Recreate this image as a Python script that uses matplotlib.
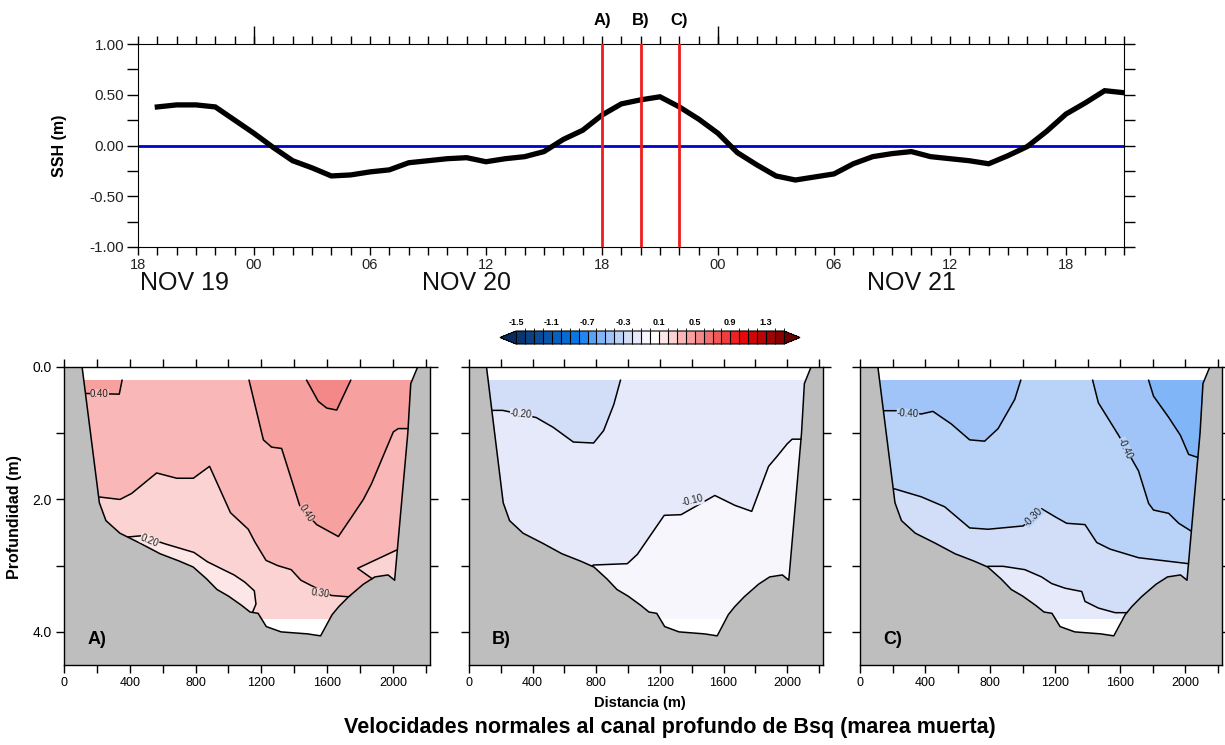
import matplotlib
matplotlib.use('Agg')
import matplotlib.pyplot as plt
import numpy as np
from matplotlib import font_manager
from matplotlib.colors import ListedColormap, BoundaryNorm
from matplotlib.cm import ScalarMappable

plt.rcParams['font.family'] = ['Liberation Sans', 'DejaVu Sans']
fams = {f.name for f in font_manager.fontManager.ttflist}
NARROW = 'Liberation Sans Narrow' if 'Liberation Sans Narrow' in fams else 'Liberation Sans'

# ---- sea surface height, hours since NOV 19 18:00 ----
hours = list(range(1, 52))
ssh = [0.38, 0.40, 0.40, 0.38, 0.25, 0.12, -0.02, -0.15, -0.22, -0.30,
       -0.29, -0.26, -0.24, -0.17, -0.15, -0.13, -0.12, -0.16, -0.13, -0.11,
       -0.06, 0.06, 0.15, 0.30, 0.41, 0.45, 0.48, 0.38, 0.26, 0.12,
       -0.07, -0.19, -0.30, -0.34, -0.31, -0.28, -0.18, -0.11, -0.08, -0.06,
       -0.11, -0.13, -0.15, -0.18, -0.10, -0.01, 0.14, 0.31, 0.42, 0.54, 0.52]
tick_hours = [0, 6, 12, 18, 24, 30, 36, 42, 48]
tick_names = ['18', '00', '06', '12', '18', '00', '06', '12', '18']
day_names = ['NOV 19', 'NOV 20', 'NOV 21']
day_pos = [2.4, 17.0, 40.0]
snap_names = ['A)', 'B)', 'C)']
snap_hours = [24, 26, 28]

# ---- channel cross-section (distance m, depth m) ----
bathy_x = [110, 215, 255, 340, 462, 584, 700, 785, 867, 930, 1000, 1080, 1131, 1180,
           1230, 1320, 1480, 1560, 1630, 1670, 1730, 1820, 1890, 1970, 2010, 2090, 2108, 2150]
bathy_d = [0.0, 2.05, 2.32, 2.51, 2.66, 2.82, 2.93, 3.02, 3.20, 3.36, 3.46, 3.60, 3.70, 3.72,
           3.92, 4.00, 4.03, 4.06, 3.74, 3.62, 3.47, 3.28, 3.17, 3.14, 3.22, 1.00, 0.25, 0.0]
data_top = 0.2
data_bottom = 3.8

# ---- colour scale ----
levels = np.round(np.arange(-15, 16) / 10, 1)
bin_colors = ['#0a3670', '#0b4182', '#0b4b96', '#0a55aa', '#0960be', '#086bd2',
              '#0877e6', '#2086f0', '#5aa0f3', '#80b6f8', '#a0c4f7', '#b9d2f8',
              '#d2ddf7', '#e6e9fa', '#f6f6fc',
              '#ffffff', '#fce6e6', '#fbd3d3', '#f9b7b7', '#f7a0a0', '#f48888',
              '#f37070', '#f25858', '#f03e3e', '#ee2222', '#e80808', '#d00606',
              '#b80505', '#a00303', '#880202']
under_color = '#082a5e'
over_color = '#6a0000'
cbar_ticks = [-1.5, -1.1, -0.7, -0.3, 0.1, 0.5, 0.9, 1.3]

# ---- panel A isolines ----
a040a_x = [100, 138, 336, 353]
a040a_d = [0.40, 0.40, 0.41, 0.20]
a040b_x = [1125, 1212, 1262, 1323, 1435, 1536, 1668, 1739, 1820, 1870, 2002, 2032, 2140]
a040b_d = [0.20, 1.10, 1.21, 1.23, 2.11, 2.38, 2.56, 2.30, 2.00, 1.76, 0.98, 0.93, 0.93]
a050_x = [1475, 1546, 1597, 1658, 1743]
a050_d = [0.20, 0.52, 0.62, 0.65, 0.20]
a030_x = [205, 340, 411, 563, 685, 786, 885, 1012, 1120, 1160, 1228, 1300, 1381, 1440, 1503, 1625, 1730, 1760]
a030_d = [1.96, 2.00, 1.91, 1.60, 1.68, 1.68, 1.50, 2.20, 2.45, 2.64, 2.92, 3.00, 3.06, 3.22, 3.30, 3.45, 3.47, 3.45]
a030t_x = [2060, 1785, 1960]
a030t_d = [2.72, 3.04, 3.35]
a020_x = [330, 464, 627, 790, 871, 960, 1034, 1100, 1157, 1167, 1140]
a020_d = [2.58, 2.55, 2.68, 2.80, 2.94, 3.05, 3.14, 3.25, 3.38, 3.58, 3.74]
a_lab_x = [215, 1475, 1556, 520]
a_lab_d = [0.41, 2.21, 3.42, 2.62]
a_lab_txt = ['0.40', '0.40', '0.30', '0.20']

# ---- panel B isolines ----
b020_x = [100, 148, 212, 423, 529, 656, 783, 846, 910, 952]
b020_d = [0.655, 0.655, 0.655, 0.764, 0.911, 1.133, 1.148, 0.961, 0.567, 0.20]
b010_x = [740, 783, 995, 1058, 1227, 1333, 1545, 1672, 1777, 1883, 1936, 2000, 2031, 2140]
b010_d = [3.05, 2.99, 2.97, 2.83, 2.24, 2.23, 1.94, 2.09, 2.18, 1.50, 1.35, 1.16, 1.09, 1.09]
b_lab_x = [328, 1407]
b_lab_d = [0.71, 2.02]
b_lab_txt = ['-0.20', '-0.10']

# ---- panel C isolines ----
c040a_x = [100, 150, 222, 376, 448, 561, 674, 766, 849, 951, 988]
c040a_d = [0.66, 0.66, 0.66, 0.71, 0.67, 0.86, 1.10, 1.12, 0.93, 0.49, 0.20]
c040b_x = [1430, 1465, 1589, 1661, 1712, 1774, 1804, 1897, 1959, 2037, 2160]
c040b_d = [0.20, 0.54, 1.03, 1.35, 1.57, 2.06, 2.16, 2.21, 2.36, 2.48, 2.48]
c050_x = [1774, 1804, 1897, 1969, 2020, 2082, 2160]
c050_d = [0.20, 0.44, 0.76, 1.03, 1.32, 1.37, 1.37]
c030_x = [190, 212, 376, 520, 674, 787, 1003, 1116, 1198, 1270, 1383, 1455, 1537, 1712, 2020, 2160]
c030_d = [1.84, 1.84, 1.96, 2.11, 2.43, 2.45, 2.40, 2.14, 2.26, 2.36, 2.38, 2.65, 2.75, 2.88, 2.97, 2.97]
c020_x = [740, 787, 880, 1013, 1116, 1178, 1260, 1321, 1363, 1383, 1465, 1568, 1630, 1660]
c020_d = [3.05, 3.01, 3.01, 3.06, 3.17, 3.27, 3.34, 3.37, 3.39, 3.54, 3.64, 3.71, 3.71, 3.71]
c_lab_x = [294, 1630, 1064]
c_lab_d = [0.71, 1.23, 2.26]
c_lab_txt = ['-0.40', '-0.40', '-0.30']

XMAX = 2225
DMAX = 4.5
W, H = 1225, 745

cmap = ListedColormap(bin_colors).with_extremes(under=under_color, over=over_color)
norm = BoundaryNorm(levels, len(bin_colors))

fig = plt.figure(figsize=(12.25, 7.45), dpi=100)

# ================= SSH time series =================
ax = fig.add_axes([138 / W, 1 - 247 / H, 986 / W, 203 / H])
ax.plot(hours, ssh, color='black', lw=3.8, solid_joinstyle='miter', zorder=3)
ax.axhline(0, color='#0000cc', lw=2, zorder=2)
for h in snap_hours:
    ax.axvline(h, color='#ee1c1c', lw=2, zorder=4)
ax.set_xlim(0, 51)
ax.set_ylim(-1, 1)
ax.set_xticks(tick_hours)
ax.set_xticklabels(tick_names, fontsize=10.5, color='#222222', family=NARROW)
ax.set_xticks(range(0, 52), minor=True)
ax.set_yticks([-1, -0.5, 0, 0.5, 1])
ax.set_yticklabels(['%.2f' % v for v in [-1, -0.5, 0, 0.5, 1]], fontsize=11, color='#222222')
ax.set_yticks(np.arange(-1, 1.01, 0.25), minor=True)
ax.tick_params(which='both', direction='out', top=True, right=True, length=6, width=1, pad=2)
ax.tick_params(axis='y', which='both', length=8)
ax.set_ylabel('SSH (m)', fontsize=11.5, fontweight='bold')
ax.yaxis.set_label_coords(-0.072, 0.5)
sec = ax.secondary_xaxis('top')
sec.set_xticks([6, 30])
sec.set_xticklabels(['', ''])
sec.tick_params(direction='out', length=13, width=1)
sec.spines['top'].set_visible(False)
for name, pos in zip(day_names, day_pos):
    ax.text(pos, -0.175, name, transform=ax.get_xaxis_transform(), ha='center', va='center',
            fontsize=18, color='#111111', family=NARROW)
for name, h in zip(snap_names, snap_hours):
    ax.text(h, 1.115, name, transform=ax.get_xaxis_transform(), ha='center', va='center',
            fontsize=12, fontweight='bold')

# ================= colour bar =================
cax = fig.add_axes([500 / W, 1 - 344 / H, 300 / W, 13 / H])
cb = fig.colorbar(ScalarMappable(norm=norm, cmap=cmap), cax=cax, orientation='horizontal',
                  extend='both', extendfrac=0.06, ticks=cbar_ticks, drawedges=True)
cb.outline.set_linewidth(0.8)
cb.dividers.set_linewidth(0.8)
cax.xaxis.set_ticks_position('top')
cax.tick_params(length=0, pad=3)
cax.set_xticklabels(['%.1f' % t for t in cbar_ticks], fontsize=6.5, fontweight='bold')


# ================= cross sections =================
def shade(ax, xs, ds, value, side):
    col = cmap(norm(value))
    edge = 0 if side == 'up' else DMAX
    ax.fill(list(xs) + [xs[-1], xs[0]], list(ds) + [edge, edge], color=col, lw=0, zorder=1)


def section(rect, base, regions, lines, labels, letter, ylabels):
    ax = fig.add_axes(rect)
    ax.fill_between([0, XMAX], 0, DMAX, color=cmap(norm(base)), lw=0, zorder=0.5)
    for xs, ds, value, side in regions:
        shade(ax, xs, ds, value, side)
    ax.fill_between([0, XMAX], 0, data_top, color='white', lw=0, zorder=2)
    ax.fill_between([0, XMAX], data_bottom, DMAX, color='white', lw=0, zorder=2)
    for xs, ds in lines:
        ax.plot(xs, ds, color='black', lw=1.1, zorder=3)
    land_x = [0] + bathy_x + [XMAX]
    land_d = [0] + bathy_d + [0]
    ax.fill_between(land_x, land_d, DMAX, color='#bebebe', lw=0, zorder=4)
    ax.plot(bathy_x, bathy_d, color='black', lw=1.1, zorder=4.5)
    for x, d, txt, rot, bg in labels:
        ax.text(x, d, txt, rotation=rot, ha='center', va='center', fontsize=7, color='#222222',
                zorder=5, bbox=dict(fc=cmap(norm(bg)), ec='none', pad=0.2),
                rotation_mode='anchor')
    ax.text(0.065, 0.085, letter, transform=ax.transAxes, fontsize=13, fontweight='bold',
            va='center', ha='left', zorder=6)
    ax.set_xlim(0, XMAX)
    ax.set_ylim(DMAX, 0)
    ax.set_xticks([0, 400, 800, 1200, 1600, 2000])
    ax.set_xticklabels(['0', '400', '800', '1200', '1600', '2000'], fontsize=9, family=NARROW)
    ax.set_xticks(range(0, 2201, 200), minor=True)
    ax.set_yticks([0, 2, 4])
    ax.set_yticks([0, 1, 2, 3, 4], minor=True)
    if ylabels:
        ax.set_yticklabels(['0.0', '2.0', '4.0'], fontsize=10)
    else:
        ax.set_yticklabels([])
    ax.tick_params(which='both', direction='out', top=True, right=True, length=6, width=1, pad=3)
    for s in ax.spines.values():
        s.set_linewidth(1)
        s.set_zorder(7)
    return ax


a_regions = [(a030_x, a030_d, 0.25, 'down'), (a030t_x, a030t_d, 0.25, 'down'),
             (a020_x, a020_d, 0.15, 'down'), (a040a_x, a040a_d, 0.45, 'up'),
             (a040b_x, a040b_d, 0.45, 'up'), (a050_x, a050_d, 0.55, 'up')]
a_lines = [(a030_x, a030_d), (a030t_x, a030t_d), (a020_x, a020_d), (a040a_x, a040a_d),
           (a040b_x, a040b_d), (a050_x, a050_d)]
a_labels = list(zip(a_lab_x, a_lab_d, a_lab_txt, [0, -57, -8, -22], [0.35, 0.35, 0.25, 0.15]))
section([64 / W, 1 - 665 / H, 366 / W, 298 / H], 0.35, a_regions, a_lines, a_labels, 'A)', True)

b_regions = [(b020_x, b020_d, -0.25, 'up'), (b010_x, b010_d, -0.05, 'down')]
b_lines = [(b020_x, b020_d), (b010_x, b010_d)]
b_labels = list(zip(b_lab_x, b_lab_d, b_lab_txt, [-5, 14], [-0.15, -0.15]))
section([469 / W, 1 - 665 / H, 354 / W, 298 / H], -0.15, b_regions, b_lines, b_labels, 'B)', False)

c_regions = [(c040a_x, c040a_d, -0.45, 'up'), (c040b_x, c040b_d, -0.45, 'up'),
             (c050_x, c050_d, -0.55, 'up'), (c030_x, c030_d, -0.25, 'down'),
             (c020_x, c020_d, -0.15, 'down')]
c_lines = [(c040a_x, c040a_d), (c040b_x, c040b_d), (c050_x, c050_d), (c030_x, c030_d),
           (c020_x, c020_d)]
c_labels = list(zip(c_lab_x, c_lab_d, c_lab_txt, [-3, -65, 45], [-0.35, -0.35, -0.35]))
section([860 / W, 1 - 665 / H, 362 / W, 298 / H], -0.35, c_regions, c_lines, c_labels, 'C)', False)

fig.text(15 / W, 1 - 517 / H, 'Profundidad (m)', rotation=90, ha='center', va='center',
         fontsize=11.5, fontweight='bold')
fig.text(640 / W, 1 - 703 / H, 'Distancia (m)', ha='center', va='center', fontsize=10.5,
         fontweight='bold', family=NARROW)
fig.text(670 / W, 1 - 727 / H, 'Velocidades normales al canal profundo de Bsq (marea muerta)',
         ha='center', va='center', fontsize=15.5, fontweight='bold')

fig.savefig('out.png', dpi=100)
